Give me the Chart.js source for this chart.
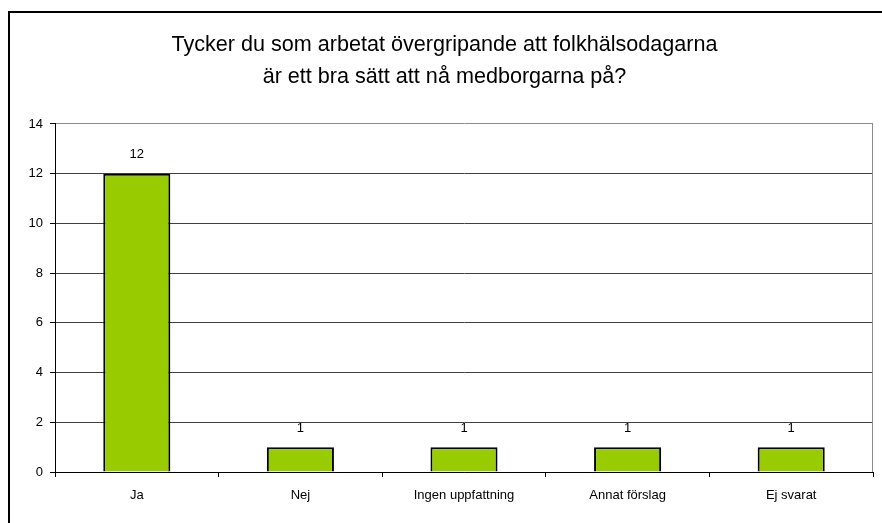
<!DOCTYPE html>
<html>
<head>
<meta charset="utf-8">
<style>
    html, body { margin: 0; padding: 0; background: #fff; }
    #wrap { width: 882px; height: 523px; }
</style>
<script src="https://cdn.jsdelivr.net/npm/chart.js@4/dist/chart.umd.min.js"></script>
</head>
<body>
<div id="wrap"><canvas id="surveyChart"></canvas></div>
<script>
// Survey answers
const categories = ['Ja', 'Nej', 'Ingen uppfattning', 'Annat förslag', 'Ej svarat'];
const answers = [12, 1, 1, 1, 1];
const yTicks = [0, 2, 4, 6, 8, 10, 12, 14];
const titleLines = [
    'Tycker du som arbetat övergripande att folkhälsodagarna',
    'är ett bra sätt att nå medborgarna på?'
];

const FONT = "'Liberation Sans', Arial, sans-serif";
const Y_MAX = 14;

// Outer frame + grey right edge of the plot area
const framePlugin = {
    id: 'frame',
    beforeDraw(chart) {
        const ctx = chart.ctx;
        ctx.save();
        ctx.fillStyle = '#fff';
        ctx.fillRect(0, 0, chart.width, chart.height);
        ctx.strokeStyle = '#000';
        ctx.lineWidth = 2;
        ctx.beginPath();
        ctx.moveTo(9, chart.height);
        ctx.lineTo(9, 12);
        ctx.lineTo(chart.width, 12);
        ctx.stroke();
        ctx.restore();
    },
    afterDraw(chart) {
        const a = chart.chartArea;
        const ctx = chart.ctx;
        ctx.save();
        ctx.strokeStyle = '#8c8c8c';
        ctx.lineWidth = 1;
        ctx.beginPath();
        ctx.moveTo(a.right - 0.5, a.top);
        ctx.lineTo(a.right - 0.5, a.bottom);
        ctx.stroke();
        ctx.restore();
    }
};

// Value above each bar
const valueLabels = {
    id: 'valueLabels',
    afterDatasetsDraw(chart) {
        const ctx = chart.ctx;
        ctx.save();
        ctx.font = '13px ' + FONT;
        ctx.fillStyle = '#000';
        ctx.textAlign = 'center';
        ctx.textBaseline = 'middle';
        chart.getDatasetMeta(0).data.forEach((bar, i) => {
            ctx.fillText(String(answers[i]), bar.x, bar.y - 19);
        });
        ctx.restore();
    }
};

new Chart(document.getElementById('surveyChart'), {
    type: 'bar',
    data: {
        labels: categories,
        datasets: [{
            data: answers,
            backgroundColor: '#99cc00',
            borderColor: '#000',
            borderWidth: 2,
            categoryPercentage: 1,
            barPercentage: 0.41
        }]
    },
    options: {
        responsive: true,
        maintainAspectRatio: false,
        animation: false,
        layout: { padding: { left: 16, right: 9, top: 0, bottom: 0 } },
        plugins: {
            legend: { display: false },
            tooltip: { enabled: false },
            title: {
                display: true,
                text: titleLines,
                color: '#000',
                font: { family: FONT, size: 21.6, weight: 'normal', lineHeight: 1.48 },
                padding: { top: 29, bottom: 31 }
            }
        },
        scales: {
            x: {
                grid: {
                    offset: true,
                    drawOnChartArea: false,
                    drawTicks: true,
                    tickLength: 5,
                    color: '#000'
                },
                border: { color: '#000', width: 1 },
                ticks: {
                    color: '#000',
                    padding: 11,
                    maxRotation: 0,
                    font: { family: FONT, size: 13 }
                },
                afterFit(scale) { scale.height = 51; }
            },
            y: {
                min: 0,
                max: Y_MAX,
                afterBuildTicks(scale) {
                    scale.ticks = yTicks.map(v => ({ value: v }));
                },
                grid: {
                    // top line of the plot area is lighter than the grid
                    color: ctx => (ctx.tick && ctx.tick.value === Y_MAX) ? '#8c8c8c' : '#404040',
                    tickLength: 5,
                    tickColor: '#000'
                },
                border: { color: '#000', width: 1 },
                ticks: {
                    color: '#000',
                    padding: 7,
                    font: { family: FONT, size: 13 }
                },
                afterFit(scale) { scale.width = 39; }
            }
        }
    },
    plugins: [framePlugin, valueLabels]
});
</script>
</body>
</html>
